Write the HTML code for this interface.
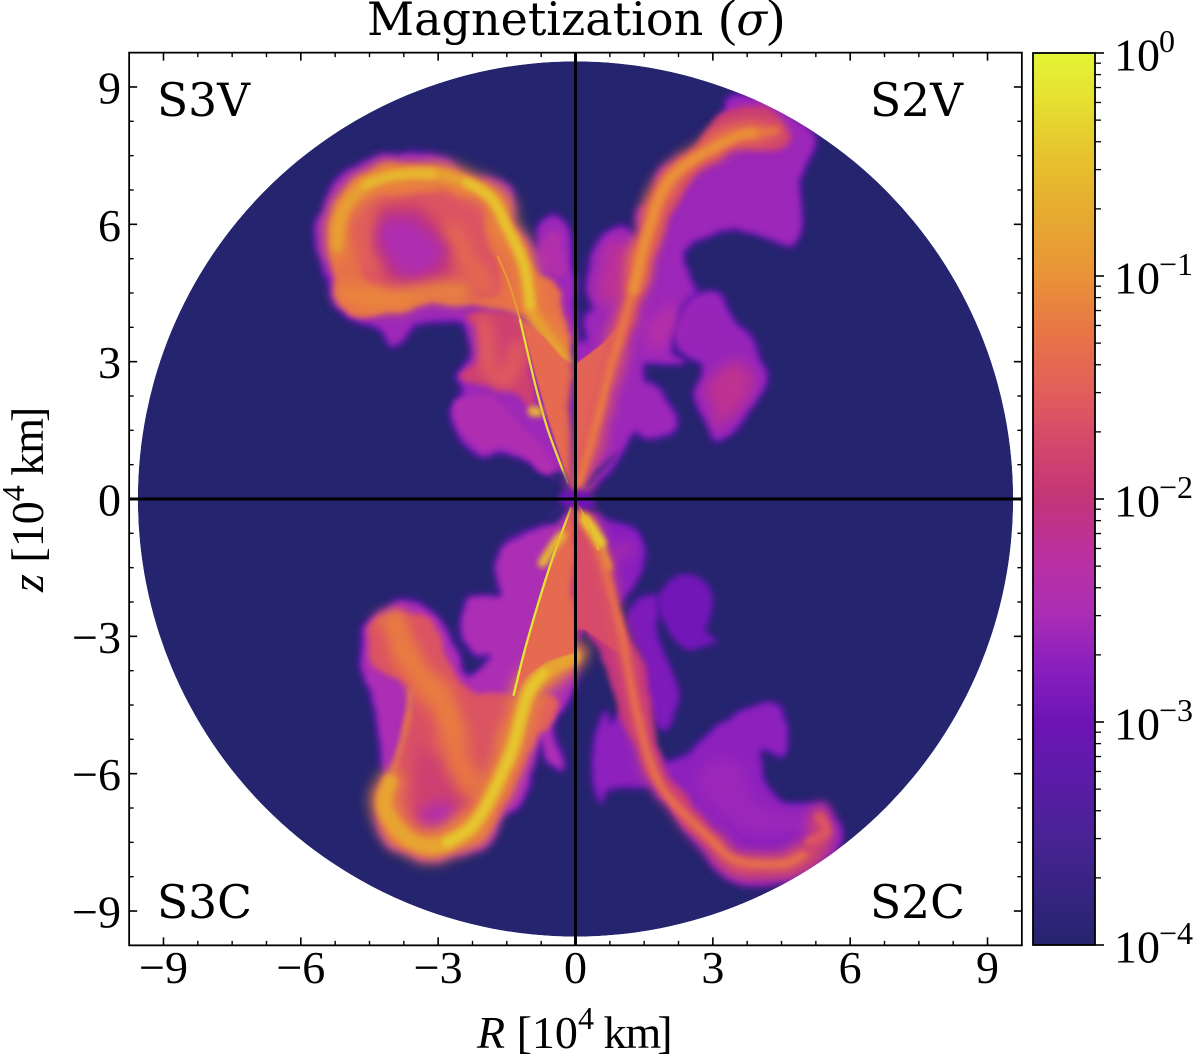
<!DOCTYPE html>
<html lang="en">
<head>
<meta charset="utf-8">
<title>Magnetization</title>
<style>
html,body{margin:0;padding:0;background:#fff;}
svg{display:block;}
text{fill:#000;font-family:"Liberation Serif",serif;font-size:46px;}
</style>
</head>
<body>
<svg id="fig" width="1200" height="1060" viewBox="0 0 1200 1060" xmlns="http://www.w3.org/2000/svg">
  <defs>
    <clipPath id="disk-clip"><circle id="disk-clip-circle"></circle></clipPath>
    <linearGradient id="cbar-grad" x1="0" y1="1" x2="0" y2="0"></linearGradient>
    <filter id="f-halo" filterUnits="userSpaceOnUse" x="0" y="0" width="1200" height="1060" color-interpolation-filters="sRGB">
      <feTurbulence type="fractalNoise" baseFrequency="0.028" numOctaves="3" seed="4" result="n"/>
      <feDisplacementMap in="SourceGraphic" in2="n" scale="12" xChannelSelector="R" yChannelSelector="G" result="d"/>
      <feGaussianBlur in="d" stdDeviation="4"/>
    </filter>
    <filter id="f-body" filterUnits="userSpaceOnUse" x="0" y="0" width="1200" height="1060" color-interpolation-filters="sRGB">
      <feTurbulence type="fractalNoise" baseFrequency="0.028" numOctaves="3" seed="4" result="n"/>
      <feDisplacementMap in="SourceGraphic" in2="n" scale="12" xChannelSelector="R" yChannelSelector="G" result="d"/>
      <feGaussianBlur in="d" stdDeviation="3"/>
    </filter>
    <filter id="f-soft" filterUnits="userSpaceOnUse" x="0" y="0" width="1200" height="1060" color-interpolation-filters="sRGB">
      <feTurbulence type="fractalNoise" baseFrequency="0.028" numOctaves="3" seed="4" result="n"/>
      <feDisplacementMap in="SourceGraphic" in2="n" scale="14" xChannelSelector="R" yChannelSelector="G" result="d"/>
      <feGaussianBlur in="d" stdDeviation="7"/>
    </filter>
    <filter id="f-ridge" filterUnits="userSpaceOnUse" x="0" y="0" width="1200" height="1060" color-interpolation-filters="sRGB">
      <feTurbulence type="fractalNoise" baseFrequency="0.02" numOctaves="2" seed="4" result="n"/>
      <feDisplacementMap in="SourceGraphic" in2="n" scale="3" xChannelSelector="R" yChannelSelector="G" result="d"/>
      <feGaussianBlur in="d" stdDeviation="2.8"/>
    </filter>
    <filter id="f-sharp" filterUnits="userSpaceOnUse" x="0" y="0" width="1200" height="1060" color-interpolation-filters="sRGB">
      <feGaussianBlur stdDeviation="0.8"/>
    </filter>
  </defs>
  <rect x="0" y="0" width="1200" height="1060" fill="#fff"/>
  <g id="field" clip-path="url(#disk-clip)"></g>
  <g id="axes"></g>
  <g id="cbar"></g>
  <text x="367" y="35" style="font-size:46px;font-family:'DejaVu Serif',serif">Magnetization</text>
  <text x="719" y="35" style="font-size:52px">(<tspan font-style="italic" style="font-size:45px;font-family:'DejaVu Serif',serif">σ</tspan>)</text>
  <text x="477" y="1048"><tspan font-style="italic">R</tspan> [10<tspan dy="-19" style="font-size:32px">4</tspan><tspan dy="19" dx="-2"> k</tspan><tspan dx="-1">m</tspan><tspan dx="-4">]</tspan></text>
  <text transform="translate(43,592) rotate(-90)"><tspan font-style="italic">z</tspan> [10<tspan dy="-19" style="font-size:32px">4</tspan><tspan dy="19" dx="-2"> k</tspan><tspan dx="-1">m</tspan><tspan dx="-4">]</tspan></text>
  <text x="157" y="116" style="font-size:45.5px;font-family:'DejaVu Serif',serif">S3V</text>
  <text x="870" y="116" style="font-size:45.5px;font-family:'DejaVu Serif',serif">S2V</text>
  <text x="157" y="918" style="font-size:45.5px;font-family:'DejaVu Serif',serif">S3C</text>
  <text x="870" y="918" style="font-size:45.5px;font-family:'DejaVu Serif',serif">S2C</text>
</svg>
<script>
// ---------- axis data ----------
const xTickValues=[-9,-6,-3,0,3,6,9];
const yTickValues=[-9,-6,-3,0,3,6,9];
const minorStep=[0.75];
const axisLimit=[9.75];
const diskRadius=[9.56];
const cbarDecades=[0,-1,-2,-3,-4];
const cbarMinorMultipliers=[2,3,4,5,6,7,8,9];
const cmapLevels=[-4,-3.5,-3.2,-3,-2.75,-2.5,-2.25,-2,-1.75,-1.5,-1.25,-1,-0.75,-0.5,-0.25,0];
const cmapColors=["#25246e","#4a2396","#5f1aab","#6d14b5","#8a1fbe","#ac2eb4","#bb30a0","#c23578","#d4486c","#e2605a","#e87545","#e99238","#e6a830","#e7bf2e","#e5dc30","#e4f536"];

// ---------- field contours: [R, z] in 10^4 km ----------
const s3vOuter=[[-5.64,5.79],[-5.35,6.66],[-5.06,7.10],[-4.40,7.39],[-3.53,7.57],[-2.87,7.43],[-2.44,7.06],[-1.93,6.99],[-1.49,6.81],[-1.46,6.37],[-1.20,5.79],[-0.84,5.43],[-0.76,5.93],[-0.47,6.12],[-0.18,5.86],[-0.07,4.84],[0,4.41],[0,0.5],[-0.3,0.5],[-0.6,0.62],[-1.20,0.91],[-1.64,1.13],[-2.00,1.02],[-2.58,1.42],[-2.69,1.86],[-2.44,2.30],[-2.55,2.73],[-2.29,3.10],[-2.37,3.61],[-2.51,3.90],[-3.09,3.90],[-3.53,3.82],[-3.75,3.46],[-4.04,3.39],[-4.26,3.75],[-4.91,3.97],[-5.28,4.41],[-5.49,5.06]];
const s3vLowerLobe=[[-2.52,2.16],[-2.23,2.24],[-1.65,2.09],[-1.28,1.73],[-0.92,1.29],[-0.48,0.71],[-0.77,0.64],[-1.2,1.0],[-1.64,1.22],[-2.0,1.14],[-2.52,1.5],[-2.63,1.88]];
const s3vNeck=[[-2.37,3.98],[-1.94,4.13],[-1.28,3.98],[-0.99,3.11],[-0.92,2.02],[-1.36,2.39],[-1.72,2.39],[-2.3,2.53],[-2.52,2.75],[-2.16,3.11],[-2.2,3.69]];
const s3vNeckStreak=[[-2.0,3.9],[-2.0,3.2],[-1.7,2.65],[-1.35,2.8],[-1.3,3.3]];
const s3vUpperFinger=[[-0.7,5.6],[-0.48,5.85],[-0.3,5.6],[-0.22,4.95],[-0.48,4.85],[-0.7,5.2]];
const s3vMain=[[-5.39,5.80],[-5.21,6.53],[-4.63,7.11],[-3.54,7.37],[-2.52,6.97],[-1.86,6.71],[-1.35,5.80],[-0.92,5.07],[-0.30,4.56],[-0.30,4.27],[-0.08,2.96],[-0.92,3.91],[-2.37,4.27],[-3.83,4.13],[-4.78,3.98],[-5.21,4.42],[-5.36,5.15]];
const s3vPink=[[-4.92,6.24],[-4.34,6.68],[-2.23,6.6],[-1.94,5.8],[-1.65,4.71],[-1.94,4.42],[-3.1,4.42],[-4.55,4.71],[-4.77,5.44]];
const s3vRing=[[-4.45,6.2],[-3.5,6.35],[-2.75,5.6],[-2.9,4.8],[-3.9,4.7],[-4.5,5.3]];
const s3vCore=[[-4.27,6.02],[-3.54,6.09],[-2.96,5.44],[-3.1,5.0],[-3.83,4.93],[-4.27,5.44]];
const s3vSwirlRight=[[-2.75,5.9],[-2.3,5.2],[-1.95,4.6]];
const s3vSwirlLeft=[[-4.55,6.2],[-4.7,5.4],[-4.5,5.0]];
const s3vRidge=[[-5.21,5.51],[-5.10,6.24],[-4.63,6.82],[-3.97,7.07],[-3.1,7.11],[-2.37,6.90],[-1.86,6.60],[-1.50,5.95],[-1.14,5.15],[-0.99,4.2],[-0.70,3.69],[-0.12,2.96]];
const s3vRidgeLow=[[-5.0,4.5],[-4.2,4.35],[-3.3,4.5],[-2.5,4.55]];
const s3vRidgeBright=[[-2.37,6.9],[-1.86,6.6],[-1.5,5.95],[-1.14,5.15],[-0.99,4.2]];
const s3vRidgeBright2=[[-4.6,6.85],[-3.97,7.08],[-3.1,7.1]];
const s3vThinUpper=[[-1.7,5.3],[-1.45,4.7],[-1.21,3.91]];
const s3vThinLower=[[-1.21,3.91],[-0.88,2.5],[-0.6,1.5],[-0.17,0.35]];
const s3vWedge=[[0,0],[-0.19,0.49],[-0.6,1.75],[-0.9,2.8],[-1.17,3.91],[-0.7,3.55],[-0.3,3.1],[0,2.9]];
const s3vClump=[[-0.95,1.92],[-0.82,1.9]];
const s3vNotch=[[-0.12,0.28],[-0.32,0.62],[-0.6,0.55],[-0.35,0.32]];

const s2vPlume=[[3.23,8.42],[3.45,8.79],[4.25,8.71],[4.98,8.2],[5.2,7.7],[4.9,6.89],[4.98,6.24],[4.83,5.73],[4.47,5.58],[3.52,5.95],[2.94,5.87],[2.43,5.51],[2.39,5.22],[2.65,4.5],[2.3,4.1],[2.1,3.3],[2.3,3.0],[2.0,2.95],[1.5,3.0],[1.45,2.6],[1.95,2.3],[2.18,1.6],[1.6,1.4],[1.26,1.43],[0.7,0.55],[0.1,0.1],[0,0.1],[0,3.1],[0.3,3.4],[0.25,3.9],[0.46,4.2],[0.3,4.7],[0.46,5.51],[1.0,5.95],[1.35,5.65],[1.35,6.3],[1.85,6.5],[1.8,7.1],[2.4,7.45],[2.9,7.75]];
const s2vSideLobe=[[2.43,4.27],[2.94,4.49],[3.52,3.84],[3.92,3.26],[4.18,2.53],[3.74,1.94],[3.52,1.57],[3.08,1.29],[2.86,1.72],[2.61,2.24],[2.79,2.89],[2.36,3.18],[2.21,3.55]];
const s2vSidePink=[[2.8,2.4],[3.4,3.0],[3.9,2.6],[3.6,2.0],[3.1,1.5],[3.0,2.0]];
const s2vPlumeTop=[[3.3,8.5],[4.25,8.5],[4.7,8.0],[4.55,7.7],[3.5,7.6],[2.8,7.2],[2.35,6.7],[1.85,5.7],[1.5,4.6],[1.2,3.6],[0.9,3.3],[1.0,4.2],[1.3,5.2],[1.6,6.2],[2.0,7.0],[2.6,7.7]];
const s2vLeftPink=[[0.75,5.64],[1.26,5.51],[1.34,4.56],[0.6,4.27],[0.54,4.85]];
const s2vMidPink=[[1.6,3.9],[2.1,4.3],[2.2,3.7],[1.7,3.2]];
const s2vWedge=[[0,0],[0.28,0.9],[0.6,2.0],[0.9,3.2],[1.05,3.9],[0.6,3.4],[0.2,3.1],[0,2.95]];
const s2vJet=[[0.1,0.34],[0.46,1.66],[0.83,3.1],[1.27,4.56],[1.63,6.02],[2.06,6.97],[2.79,7.55],[3.52,7.92],[4.39,8.06]];
const s2vJetUpper=[[1.27,4.56],[1.63,6.02],[2.06,6.97],[2.79,7.55],[3.52,7.92],[3.9,8.0]];
const s2vGap=[[0.55,0.55],[0.95,1.05],[0.6,0.75],[0.2,0.2]];

const s3cOuter=[[-4.45,-2.57],[-3.76,-2.28],[-3.25,-2.42],[-2.81,-2.97],[-2.45,-3.77],[-2.23,-3.84],[-1.86,-3.41],[-2.23,-3.33],[-2.48,-2.82],[-2.3,-2.24],[-1.65,-2.06],[-1.75,-1.44],[-1.5,-1.0],[-0.63,-0.6],[-0.19,-0.35],[0,-0.2],[0,-3.55],[-0.04,-4.2],[-0.48,-4.86],[-0.26,-5.88],[-0.55,-5.74],[-0.77,-5.3],[-1.14,-6.54],[-1.57,-6.9],[-2.08,-7.56],[-3.1,-7.88],[-3.83,-7.67],[-4.3,-7.19],[-4.34,-6.61],[-4.19,-5.88],[-4.34,-4.86],[-4.63,-3.7],[-4.63,-3.26]];
const s3cBody=[[-4.45,-2.64],[-3.76,-2.5],[-3.18,-2.68],[-2.67,-3.84],[-2.23,-4.21],[-1.43,-4.28],[-1.06,-5.45],[-1.35,-6.32],[-2.08,-7.34],[-3.18,-7.7],[-3.91,-7.41],[-4.19,-6.9],[-4.05,-6.1],[-3.76,-5.15],[-3.61,-4.28],[-4.05,-3.84],[-4.45,-3.55]];
const s3cCentre=[[-3.45,-4.4],[-3.3,-5.5],[-2.3,-5.6],[-2.1,-6.3],[-2.9,-7.2],[-3.4,-7.0],[-3.5,-5.8]];
const s3cCore=[[-3.4,-6.9],[-2.85,-6.6],[-2.6,-7.0],[-3.0,-7.25]];
const s3cBroadFlow=[[-3.95,-2.75],[-3.4,-3.9],[-2.85,-4.5],[-2.6,-5.6],[-2.3,-6.2]];
const s3cTopRidge=[[-4.34,-2.6],[-3.9,-2.68],[-3.47,-3.7],[-2.96,-4.28],[-2.67,-5.15]];
const s3cLeftRidge=[[-3.61,-4.2],[-3.68,-4.86],[-4.05,-6.17]];
const s3cMainRidge=[[-0.04,-3.44],[-0.63,-3.77],[-1.06,-4.28],[-1.35,-5.37],[-1.72,-6.25],[-2.23,-7.12],[-2.81,-7.52],[-3.39,-7.56],[-3.9,-7.19],[-4.19,-6.68],[-4.05,-6.17]];
const s3cBrightRidge=[[-0.7,-3.8],[-1.06,-4.28],[-1.35,-5.37],[-1.72,-6.25],[-2.23,-7.12],[-2.81,-7.52]];
const s3cSideLobe=[[-0.92,-4.43],[-0.41,-4.28],[-0.48,-4.86],[-0.77,-5.15],[-1.06,-5.52]];
const s3cWedge=[[0,0],[-0.55,-1.44],[-1.06,-3.12],[-1.35,-4.28],[-1.06,-3.84],[-0.63,-3.55],[0,-3.35]];
const s3cThin=[[-0.1,-0.2],[-0.55,-1.44],[-1.06,-3.12],[-1.35,-4.28]];
const s3cClump=[[-0.3,-0.8],[-0.5,-1.05],[-0.72,-1.4]];
const s3cNotch=[[-0.15,-0.2],[-0.4,-0.55],[-0.75,-0.45],[-0.5,-0.25]];

const s2cRing=[[0.3,-0.35],[0.65,-0.5],[1.15,-0.65],[1.5,-1.15],[1.2,-2.0],[0.9,-2.1],[0.4,-1.0]];
const s2cRingEye=[[0.85,-1.15],[1.05,-1.0],[1.25,-1.15],[1.05,-1.3]];
const s2cStrand=[[1.26,-2.46],[1.77,-2.17],[1.7,-2.97],[2.21,-4.2],[2.06,-4.72],[1.85,-4.94],[1.55,-4.28],[1.41,-3.41]];
const s2cBlob=[[1.85,-2.17],[2.5,-1.66],[2.94,-2.17],[2.79,-2.83],[3.0,-3.12],[2.43,-3.19],[2.06,-2.83]];
const s2cPlume=[[2.39,-5.66],[2.79,-5.37],[3.3,-4.87],[4.25,-4.43],[4.54,-4.87],[4.54,-5.59],[3.96,-5.52],[4.39,-6.61],[5.41,-6.76],[5.78,-7.34],[5.27,-8.0],[4.54,-8.36],[3.37,-8.29],[2.79,-7.63],[2.0,-6.68],[1.48,-6.25],[0.68,-6.32],[0.54,-6.54],[0.39,-5.95],[0.61,-4.72],[0.83,-4.94],[1.26,-4.65],[1.55,-5.2],[1.9,-5.7]];
const s2cPlumeInner=[[2.6,-6.2],[3.4,-5.6],[4.0,-6.7],[5.2,-6.95],[5.3,-7.2],[4.2,-7.3],[3.4,-7.1]];
const s2cBand=[[0,0],[0.5,-1.0],[1.0,-2.4],[1.6,-4.0],[1.7,-4.9],[2.0,-5.9],[2.7,-6.9],[3.2,-7.5],[3.0,-7.6],[2.2,-6.9],[1.6,-6.0],[1.1,-5.0],[0.6,-3.6],[0.2,-2.9],[0,-2.9]];
const s2cWedge=[[0,0],[0.75,-2.0],[1.2,-3.3],[0.9,-3.35],[0.55,-3.1],[0.2,-2.85],[0,-2.85]];
const s2cJet=[[0.1,-0.3],[0.61,-1.44],[0.97,-2.82],[1.26,-4.28],[1.63,-5.74],[2.06,-6.54],[2.94,-7.41],[3.52,-7.89],[4.54,-7.96],[4.98,-7.78]];
const s2cFoot=[[3.0,-7.5],[3.6,-8.0],[4.5,-8.05],[5.1,-7.85],[5.4,-7.3],[5.3,-6.95]];
const s2cTipGlow=[[5.34,-6.95],[5.49,-7.27],[5.1,-7.5]];
const s2cYellow=[[0.2,-0.45],[0.4,-0.7],[0.55,-0.95]];
const s2cGlowEdge=[[0.55,-0.95],[0.75,-1.5]];
const s2cThin=[[0.05,-0.1],[0.3,-0.6],[0.5,-1.1]];
const originGlow=[[-0.3,0.18],[0.3,0.18],[0.35,-0.15],[-0.35,-0.15]];

// kind, contour, log10(sigma), stroke width (10^4 km) for ridges
const fieldLayers=[
 ["halo",s3vOuter,-2.6,0],
 ["body",s3vLowerLobe,-2.45,0],
 ["body",s3vNeck,-1.85,0],
 ["soft",s3vNeckStreak,-1.5,0.34],
 ["body",s3vUpperFinger,-2.4,0],
 ["body",s3vMain,-1.3,0],
 ["body",s3vPink,-1.62,0],
 ["soft",s3vRing,-2.0,0],
 ["soft",s3vCore,-2.45,0],
 ["soft",s3vSwirlRight,-1.35,0.35],
 ["soft",s3vSwirlLeft,-1.45,0.3],
 ["soft",s3vRidgeLow,-1.1,0.42],
 ["soft",s3vRidge,-1.1,0.55],
 ["ridge",s3vRidge,-0.85,0.24],
 ["ridge",s3vRidgeBright,-0.45,0.18],
 ["ridge",s3vRidgeBright2,-0.55,0.16],
 ["sharp",s3vWedge,-1.38,0],
 ["thin",s3vThinUpper,-0.9,0.04],
 ["thin",s3vThinLower,-0.2,0.05],
 ["ridge",s3vClump,-0.6,0.22],
 ["body",s3vNotch,-3.9,0],

 ["halo",s2vPlume,-2.62,0],
 ["halo",s2vSideLobe,-2.65,0],
 ["soft",s2vSidePink,-2.15,0],
 ["soft",s2vLeftPink,-2.2,0],
 ["soft",s2vMidPink,-2.35,0],
 ["body",s2vPlumeTop,-1.9,0],
 ["sharp",s2vWedge,-1.45,0],
 ["soft",s2vJet,-1.55,0.42],
 ["ridge",s2vJet,-1.2,0.15],
 ["soft",s2vJetUpper,-1.25,0.36],
 ["ridge",s2vJetUpper,-1.0,0.18],
 ["body",s2vGap,-3.9,0],

 ["halo",s3cOuter,-2.5,0],
 ["body",s3cBody,-1.62,0],
 ["soft",s3cCentre,-1.85,0],
 ["soft",s3cCore,-2.4,0],
 ["soft",s3cBroadFlow,-1.25,0.6],
 ["soft",s3cTopRidge,-1.15,0.22],
 ["ridge",s3cLeftRidge,-1.1,0.1],
 ["body",s3cSideLobe,-1.5,0],
 ["soft",s3cMainRidge,-1.1,0.65],
 ["ridge",s3cMainRidge,-0.8,0.32],
 ["ridge",s3cBrightRidge,-0.42,0.2],
 ["sharp",s3cWedge,-1.38,0],
 ["thin",s3cThin,-0.15,0.05],
 ["ridge",s3cClump,-0.55,0.2],
 ["body",s3cNotch,-3.9,0],

 ["halo",s2cRing,-2.75,0],
 ["soft",s2cRingEye,-2.3,0],
 ["halo",s2cStrand,-2.85,0],
 ["halo",s2cBlob,-2.95,0],
 ["halo",s2cPlume,-2.72,0],
 ["soft",s2cPlumeInner,-2.62,0],
 ["body",s2cBand,-2.05,0],
 ["sharp",s2cWedge,-1.72,0],
 ["soft",s2cFoot,-1.8,0.42],
 ["soft",s2cJet,-1.6,0.3],
 ["ridge",s2cJet,-1.3,0.15],
 ["ridge",s2cTipGlow,-1.6,0.2],
 ["ridge",s2cGlowEdge,-0.95,0.13],
 ["ridge",s2cYellow,-0.4,0.24],
 ["thin",s2cThin,-0.6,0.04],
 ["body",originGlow,-3.0,0]
];

// ---------- scales ----------
const SVG_NS="http://www.w3.org/2000/svg";
const X0=575.5, Y0=499, PX=45.78;
const xScale=v=>X0+v*PX;
const yScale=v=>Y0-v*PX;
const CB_TOP=53, CB_BOTTOM=945, CB_LEFT=1033, CB_RIGHT=1095;
const cbarScale=l=>CB_TOP+(0-l)/4*(CB_BOTTOM-CB_TOP);

function hexRgb(h){return [parseInt(h.slice(1,3),16),parseInt(h.slice(3,5),16),parseInt(h.slice(5,7),16)];}
function colorOf(l){
  if(l<=cmapLevels[0])return cmapColors[0];
  for(let i=1;i<cmapLevels.length;i++){
    if(l<=cmapLevels[i]){
      const t=(l-cmapLevels[i-1])/(cmapLevels[i]-cmapLevels[i-1]);
      const a=hexRgb(cmapColors[i-1]),b=hexRgb(cmapColors[i]);
      return "rgb("+a.map((v,k)=>Math.round(v+(b[k]-v)*t)).join(",")+")";
    }
  }
  return cmapColors[cmapColors.length-1];
}
function node(tag,attrs,parent){
  const el=document.createElementNS(SVG_NS,tag);
  for(const k in attrs)el.setAttribute(k,attrs[k]);
  parent.appendChild(el);
  return el;
}
function smoothPath(pts,closed){
  const p=pts.map(q=>[xScale(q[0]),yScale(q[1])]);
  const n=p.length;
  const at=i=>closed?p[(i+n)%n]:p[Math.max(0,Math.min(n-1,i))];
  let d="M"+p[0][0].toFixed(1)+" "+p[0][1].toFixed(1);
  const segs=closed?n:n-1;
  for(let i=0;i<segs;i++){
    const a=at(i-1),b=at(i),c=at(i+1),e=at(i+2);
    const c1=[b[0]+(c[0]-a[0])/6,b[1]+(c[1]-a[1])/6];
    const c2=[c[0]-(e[0]-b[0])/6,c[1]-(e[1]-b[1])/6];
    d+="C"+c1[0].toFixed(1)+" "+c1[1].toFixed(1)+" "+c2[0].toFixed(1)+" "+c2[1].toFixed(1)+" "+c[0].toFixed(1)+" "+c[1].toFixed(1);
  }
  return d+(closed?"Z":"");
}
function straightPath(pts){
  return "M"+pts.map(q=>xScale(q[0]).toFixed(1)+" "+yScale(q[1]).toFixed(1)).join("L")+"Z";
}

// ---------- field ----------
const clipC=document.getElementById("disk-clip-circle");
clipC.setAttribute("cx",xScale(0));
clipC.setAttribute("cy",yScale(0));
clipC.setAttribute("r",diskRadius[0]*PX);
const field=document.getElementById("field");
const disk=node("circle",{cx:xScale(0),cy:yScale(0),r:diskRadius[0]*PX,fill:colorOf(-4)},field);


fieldLayers.forEach(layer=>{
  const kind=layer[0],pts=layer[1],level=layer[2],w=layer[3];
  const col=colorOf(level);
  let el;
  if(kind==="halo"){
    el=node("path",{d:smoothPath(pts,true),fill:colorOf(-3.1),stroke:colorOf(-3.1),"stroke-width":6,"stroke-linejoin":"round",filter:"url(#f-halo)"},field);
    
    
    el=node("path",{d:smoothPath(pts,true),fill:col,filter:"url(#f-body)"},field);
  }else if(kind==="body"){
    el=node("path",{d:smoothPath(pts,true),fill:col,filter:"url(#f-body)"},field);
  }else if(kind==="soft"){
    if(w>0){
      el=node("path",{d:smoothPath(pts,false),fill:"none",stroke:col,"stroke-width":w*PX,"stroke-linecap":"round","stroke-linejoin":"round",filter:"url(#f-soft)"},field);
    }else{
      el=node("path",{d:smoothPath(pts,true),fill:col,filter:"url(#f-soft)"},field);
    }
  }else if(kind==="sharp"){
    el=node("path",{d:straightPath(pts),fill:col,filter:"url(#f-sharp)"},field);
  }else if(kind==="ridge"){
    el=node("path",{d:smoothPath(pts,false),fill:"none",stroke:col,"stroke-width":w*PX,"stroke-linecap":"round","stroke-linejoin":"round",filter:"url(#f-ridge)"},field);
  }else{
    el=node("path",{d:smoothPath(pts,false),fill:"none",stroke:col,"stroke-width":w*PX,"stroke-linecap":"round"},field);
  }
  
  
});

// ---------- axes ----------
const axes=document.getElementById("axes");
const lim=axisLimit[0];
const hLine=node("line",{x1:xScale(-lim),x2:xScale(lim),y1:yScale(0),y2:yScale(0),stroke:"#000","stroke-width":3},axes);


const vLine=node("line",{x1:xScale(0),x2:xScale(0),y1:yScale(lim),y2:yScale(-lim),stroke:"#000","stroke-width":3},axes);


const frame=node("rect",{x:xScale(-lim),y:yScale(lim),width:2*lim*PX,height:2*lim*PX,fill:"none",stroke:"#000","stroke-width":1.8},axes);



function tickSet(v,len,width){
  const x=xScale(v),y=yScale(v),l=xScale(-lim),r=xScale(lim),t=yScale(lim),b=yScale(-lim);
  const lines=[[x,b,x,b-len],[x,t,x,t+len],[l,y,l+len,y],[r,y,r-len,y]];
  lines.forEach(s=>{
    const tk=node("line",{x1:s[0],y1:s[1],x2:s[2],y2:s[3],stroke:"#000","stroke-width":width},axes);
    
    
  });
}
for(let k=-13;k<=13;k++){
  const v=k*minorStep[0];
  if(Math.abs(v)<lim&&k%4!==0)tickSet(v,4.5,1.4);
}
xTickValues.forEach(v=>tickSet(v,8,1.6));
function fmt(v){return v<0?"\u2212"+Math.abs(v):String(v);}
xTickValues.forEach(v=>{
  const t=node("text",{x:xScale(v),y:983,"text-anchor":"middle"},axes);
  t.textContent=fmt(v);
  
  
});
yTickValues.forEach(v=>{
  const t=node("text",{x:121,y:yScale(v)+16.5,"text-anchor":"end"},axes);
  t.textContent=fmt(v);
  
  
});

// ---------- colorbar ----------
const grad=document.getElementById("cbar-grad");
cmapLevels.forEach((l,i)=>{
  const st=node("stop",{offset:(l+4)/4,"stop-color":cmapColors[i]},grad);
  
  
});
const cbar=document.getElementById("cbar");
const cbRect=node("rect",{x:CB_LEFT,y:CB_TOP,width:CB_RIGHT-CB_LEFT,height:CB_BOTTOM-CB_TOP,fill:"url(#cbar-grad)",stroke:"#000","stroke-width":1.8},cbar);


cbarDecades.forEach(d=>{
  const y=cbarScale(d);
  const tk=node("line",{x1:CB_RIGHT,x2:CB_RIGHT+9,y1:y,y2:y,stroke:"#000","stroke-width":1.6},cbar);
  
  
  const t=node("text",{x:1114,y:y+17.5},cbar);
  t.textContent="10";
  
  
  const e=node("text",{x:1159,y:y-1,style:"font-size:32px"},cbar);
  e.textContent=d===0?"0":"\u2212"+Math.abs(d);
  
  
  if(d>-4){
    cbarMinorMultipliers.forEach(m=>{
      const ym=cbarScale(d-1+Math.log10(m));
      const mt=node("line",{x1:CB_RIGHT,x2:CB_RIGHT+6,y1:ym,y2:ym,stroke:"#000","stroke-width":1.3},cbar);
      
      
    });
  }
});
</script>
</body>
</html>
